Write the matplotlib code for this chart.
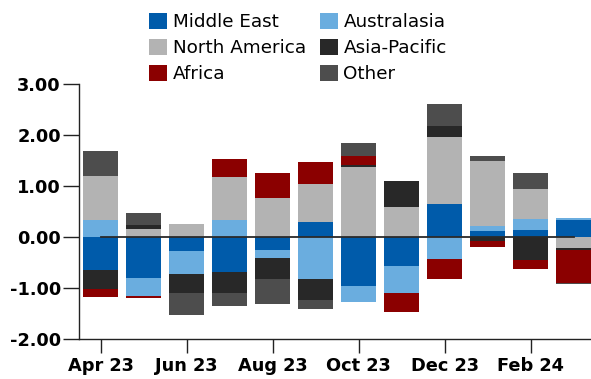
import matplotlib
matplotlib.use("Agg")
import matplotlib.pyplot as plt
import numpy as np

months = ["Apr 23", "May 23", "Jun 23", "Jul 23", "Aug 23", "Sep 23",
          "Oct 23", "Nov 23", "Dec 23", "Jan 24", "Feb 24", "Mar 24"]

middle_east   = [-0.65, -0.81, -0.28, -0.69, -0.26, 0.29, -0.97, -0.58, 0.64, 0.11, 0.13, 0.33]
australasia   = [0.33, -0.35, -0.45, 0.33, -0.16, -0.83, -0.31, -0.53, -0.44, 0.10, 0.22, 0.04]
north_america = [0.86, 0.15, 0.25, 0.84, 0.76, 0.75, 1.37, 0.58, 1.33, 1.29, 0.59, -0.22]
asia_pacific  = [-0.38, 0.08, -0.37, -0.41, -0.41, -0.41, 0.04, 0.51, 0.22, -0.08, -0.45, -0.04]
africa        = [-0.15, -0.04, 0.00, 0.37, 0.49, 0.43, 0.18, -0.37, -0.39, -0.11, -0.18, -0.64]
other         = [0.49, 0.25, -0.43, -0.25, -0.49, -0.18, 0.25, 0.00, 0.43, 0.10, 0.31, -0.03]

series = [
    ("Middle East", middle_east, "#005baa"),
    ("Australasia", australasia, "#6aaddf"),
    ("North America", north_america, "#b3b3b3"),
    ("Asia-Pacific", asia_pacific, "#282828"),
    ("Africa", africa, "#8b0000"),
    ("Other", other, "#4d4d4d"),
]

plt.rcParams["font.family"] = ["DejaVu Sans"]

fig = plt.figure(figsize=(5.91, 3.79), dpi=100)
ax = fig.add_axes([0.1342, 0.1063, 1 - 0.1342, 0.6713])

x = np.arange(len(months))
pos_base = np.zeros(len(months))
neg_base = np.zeros(len(months))
handles = {}
for name, vals, color in series:
    v = np.array(vals)
    pos = np.where(v > 0, v, 0)
    neg = np.where(v < 0, v, 0)
    h = ax.bar(x, pos, bottom=pos_base, width=0.81, color=color, linewidth=0, label=name)
    ax.bar(x, neg, bottom=neg_base, width=0.81, color=color, linewidth=0)
    pos_base += pos
    neg_base += neg
    handles[name] = h

# zero reference line across the bars
ax.plot(x, np.zeros(len(months)), color="#2a2a2a", lw=1.3)

ax.set_ylim(-2, 3)
ax.set_xlim(-0.5, 11.407)
ax.set_yticks(np.arange(-2, 3.01, 1))
ax.set_yticklabels([f"{t:.2f}" for t in np.arange(-2, 3.01, 1)],
                   fontsize=12.8, fontweight="bold")
ax.set_xticks(x[::2])
ax.set_xticklabels(months[::2], fontsize=12.8, fontweight="bold")

for s in ["top", "right"]:
    ax.spines[s].set_visible(False)
for s in ["left", "bottom"]:
    ax.spines[s].set_color("#222222")
    ax.spines[s].set_linewidth(1.0)
ax.tick_params(axis="y", length=11.5, width=1.0, color="#222222", pad=1.7)
ax.tick_params(axis="x", length=10, width=1.0, color="#222222", pad=3)

order = ["Middle East", "North America", "Africa", "Australasia", "Asia-Pacific", "Other"]
fig.legend([handles[n] for n in order], order, ncol=2, loc="upper left",
           bbox_to_anchor=(0.252, 0.966), frameon=False, fontsize=13.2,
           handlelength=0.98, handleheight=0.98, handletextpad=0.32,
           labelspacing=0.42, columnspacing=0.75, borderpad=0, borderaxespad=0)

fig.savefig("out.png", dpi=100)
